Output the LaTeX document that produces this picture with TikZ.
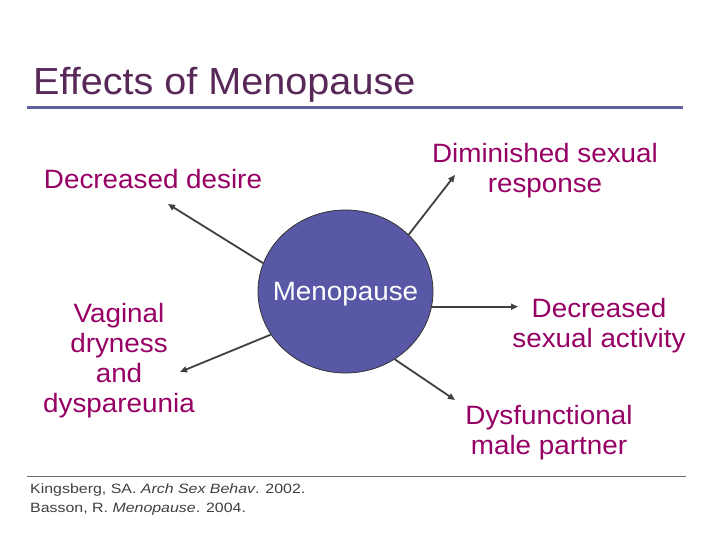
\documentclass[tikz,border=0pt]{standalone}
\usepackage{fontspec}
\setmainfont{Liberation Sans}[Ligatures=NoCommon]
\newfontfamily\lblfont{Liberation Sans}[FakeStretch=1.05,Ligatures=NoCommon]
\newfontfamily\citefont{Liberation Sans}[FakeStretch=1.18,Ligatures=NoCommon]
\usetikzlibrary{shapes.geometric,arrows.meta}
\definecolor{titlecol}{RGB}{88,40,88}
\definecolor{rulecol}{RGB}{96,96,160}
\definecolor{labelcol}{RGB}{150,0,100}
\definecolor{circfill}{RGB}{88,88,166}
\definecolor{arrowcol}{RGB}{64,64,64}
\definecolor{citecol}{RGB}{64,64,64}
\definecolor{citerule}{RGB}{110,110,125}
\tikzset{
  lbl/.style={anchor=north, inner sep=0pt, align=center, text=labelcol,
    font=\lblfont\fontsize{26.5}{30}\selectfont},
  conn/.style={draw=arrowcol, line width=1.8pt, -{Triangle[length=7pt,width=6pt]}},
}
\begin{document}
\begin{tikzpicture}[x=1pt,y=-1pt]
\useasboundingbox (0,0) rectangle (720,540);
% title
\node[anchor=base west, inner sep=0pt, text=titlecol,
  font=\lblfont\fontsize{37.7}{40}\selectfont] (title) at (33,94.3) {Effects of Menopause};
\draw[rulecol, line width=3.8pt] (27,107.6) coordinate (tl) -- (683,107.6) coordinate (tr);
% central ellipse
\node[ellipse, draw=arrowcol!80!black, line width=0.8pt, fill=circfill,
  minimum width=175pt, minimum height=163pt, inner sep=0pt] (meno) at (345.5,291.5) {};
\node[anchor=base, inner sep=0pt, text=white,
  font=\lblfont\fontsize{26.5}{30}\selectfont] (menotext) at (345.5,300) {Menopause};
% labels
\node[lbl] (desire) at (153,169) {Decreased desire};
\node[lbl] (dimin) at (545,143) {Diminished sexual\\response};
\node[lbl] (vag) at (119,303) {Vaginal\\dryness\\and\\dyspareunia};
\node[lbl] (activ) at (599,298) {Decreased\\sexual activity};
\node[lbl] (dysf) at (549,405) {Dysfunctional\\male partner};
% arrow tips
\coordinate (t1) at (168,204);
\coordinate (t2) at (180,372);
\coordinate (t3) at (455,175);
\coordinate (t4) at (518,306);
\coordinate (t5) at (455,400);
\draw[conn] (meno.161) -- (t1);
\draw[conn] (meno.210.5) -- (t2);
\draw[conn] (meno.42.7) -- (t3);
\draw[conn] (meno.350.44) -- (meno.350.44 -| t4);
\draw[conn] (meno.306.4) -- (t5);
% citation
\draw[citerule, line width=1pt] (27,476.7) coordinate (cl) -- (686,476.7) coordinate (cr);
\node[anchor=north west, inner sep=0pt, align=left, text=citecol,
  font=\citefont\fontsize{13.5}{18.8}\selectfont] (cite) at (30,483.5)
  {Kingsberg, SA. \textit{Arch Sex Behav}. 2002.\\Basson, R. \textit{Menopause}. 2004.};
\end{tikzpicture}
\end{document}
